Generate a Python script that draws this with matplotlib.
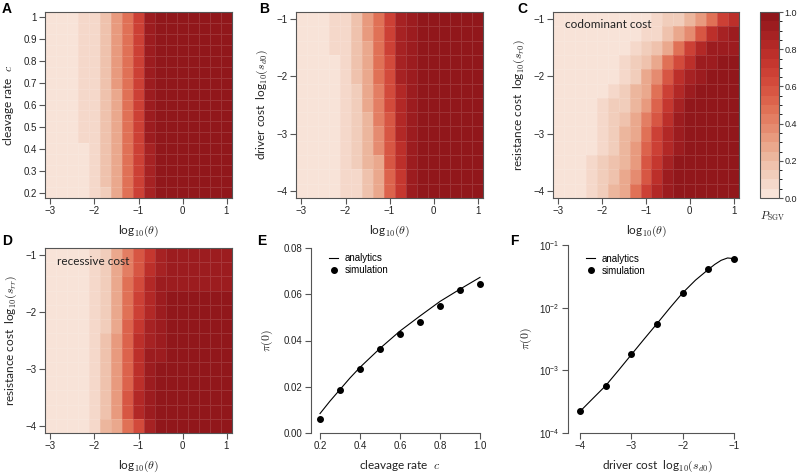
import numpy as np
import matplotlib.pyplot as plt
from matplotlib.colors import LinearSegmentedColormap, ListedColormap, BoundaryNorm
from matplotlib.lines import Line2D

plt.rcParams['font.family'] = ['Liberation Sans', 'DejaVu Sans']
plt.rcParams['mathtext.fontset'] = 'cm'

# grids of the heatmaps
log_theta = [-3, -2.75, -2.5, -2.25, -2, -1.75, -1.5, -1.25, -1, -0.75, -0.5, -0.25, 0, 0.25, 0.5, 0.75, 1]
cleavage = [1.0, 0.95, 0.9, 0.85, 0.8, 0.75, 0.7, 0.65, 0.6, 0.55, 0.5, 0.45, 0.4, 0.35, 0.3, 0.25, 0.2]
log_cost = [-1, -1.25, -1.5, -1.75, -2, -2.25, -2.5, -2.75, -3, -3.25, -3.5, -3.75, -4]

# P_SGV in percent, rows from top of panel to bottom
p_A = [
    [2, 2, 3, 7, 8, 17, 32, 45, 68, 90, 96, 97, 97, 97, 97, 97, 97],
    [2, 2, 3, 7, 8, 17, 32, 45, 68, 90, 96, 97, 97, 97, 97, 97, 97],
    [2, 2, 3, 7, 8, 17, 32, 45, 68, 90, 96, 97, 97, 97, 97, 97, 97],
    [2, 2, 3, 7, 8, 17, 32, 45, 68, 90, 96, 97, 97, 97, 97, 97, 97],
    [2, 2, 3, 7, 8, 17, 32, 45, 68, 90, 96, 97, 97, 97, 97, 97, 97],
    [2, 2, 3, 7, 8, 17, 32, 45, 68, 90, 96, 97, 97, 97, 97, 97, 97],
    [2, 2, 3, 7, 8, 17, 32, 45, 68, 90, 96, 97, 97, 97, 97, 97, 97],
    [2, 2, 3, 7, 8, 17, 27, 45, 68, 90, 96, 97, 97, 97, 97, 97, 97],
    [2, 2, 3, 7, 8, 17, 27, 45, 68, 90, 96, 97, 97, 97, 97, 97, 97],
    [2, 2, 3, 7, 8, 17, 27, 45, 68, 90, 96, 97, 97, 97, 97, 97, 97],
    [2, 2, 3, 7, 8, 17, 27, 45, 68, 90, 96, 97, 97, 97, 97, 97, 97],
    [2, 2, 3, 7, 8, 17, 27, 45, 68, 90, 96, 97, 97, 97, 97, 97, 97],
    [2, 2, 3, 3, 8, 17, 27, 45, 68, 88, 96, 97, 97, 97, 97, 97, 97],
    [2, 2, 3, 3, 8, 17, 27, 45, 68, 88, 96, 97, 97, 97, 97, 97, 97],
    [2, 2, 3, 3, 8, 17, 27, 45, 68, 88, 96, 97, 97, 97, 97, 97, 97],
    [2, 2, 3, 3, 8, 17, 27, 45, 68, 88, 96, 97, 97, 97, 97, 97, 97],
    [2, 2, 3, 3, 8, 10, 27, 45, 68, 88, 96, 97, 97, 97, 97, 97, 97],
]
p_B = [
    [2, 2, 2, 8, 7, 18, 32, 45, 70, 88, 93, 96, 96, 96, 96, 96, 96],
    [2, 2, 2, 8, 7, 18, 32, 45, 70, 88, 93, 96, 96, 96, 96, 96, 96],
    [2, 2, 2, 8, 7, 18, 28, 45, 70, 88, 95, 96, 96, 96, 96, 96, 96],
    [2, 2, 2, 3, 7, 18, 28, 45, 62, 88, 95, 96, 96, 96, 96, 96, 96],
    [2, 2, 2, 3, 7, 18, 28, 45, 62, 88, 95, 96, 96, 96, 96, 96, 96],
    [2, 2, 2, 3, 7, 12, 28, 40, 62, 82, 95, 96, 96, 96, 96, 96, 96],
    [2, 2, 2, 3, 7, 12, 28, 40, 62, 82, 95, 96, 96, 96, 96, 96, 96],
    [2, 2, 2, 3, 7, 12, 20, 40, 57, 82, 95, 96, 96, 96, 96, 96, 96],
    [2, 2, 2, 3, 7, 12, 20, 36, 57, 82, 95, 96, 96, 96, 96, 96, 96],
    [2, 2, 2, 3, 7, 12, 20, 36, 57, 75, 90, 96, 96, 96, 96, 96, 96],
    [2, 2, 2, 3, 7, 12, 20, 30, 57, 75, 90, 96, 96, 96, 96, 96, 96],
    [2, 2, 2, 3, 6, 7, 17, 30, 50, 72, 90, 96, 96, 96, 96, 96, 96],
    [2, 2, 2, 3, 6, 7, 17, 30, 50, 72, 90, 96, 96, 96, 96, 96, 96],
]
p_C = [
    [2, 2, 2, 2, 2, 2, 2, 2, 3, 5, 10, 15, 22, 32, 45, 68, 75],
    [2, 2, 2, 2, 2, 2, 2, 3, 6, 9, 16, 25, 37, 57, 75, 88, 92],
    [2, 2, 2, 2, 2, 2, 3, 6, 11, 18, 30, 45, 65, 82, 91, 95, 95],
    [2, 2, 2, 2, 2, 3, 6, 10, 18, 30, 45, 62, 78, 90, 95, 96, 96],
    [2, 2, 2, 2, 3, 4, 8, 15, 25, 38, 55, 75, 88, 95, 96, 96, 96],
    [2, 2, 2, 2, 3, 7, 11, 20, 30, 45, 65, 82, 92, 96, 96, 96, 96],
    [2, 2, 2, 2, 5, 10, 15, 22, 35, 52, 72, 88, 96, 96, 96, 96, 96],
    [2, 2, 2, 2, 6, 12, 18, 28, 42, 60, 78, 92, 96, 96, 96, 96, 96],
    [2, 2, 2, 2, 7, 13, 20, 30, 45, 65, 82, 94, 97, 97, 97, 97, 97],
    [2, 2, 2, 2, 8, 14, 22, 32, 50, 68, 85, 95, 97, 97, 97, 97, 97],
    [2, 2, 2, 6, 10, 16, 24, 35, 55, 72, 88, 96, 97, 97, 97, 97, 97],
    [2, 2, 2, 6, 10, 18, 26, 38, 60, 78, 92, 97, 97, 97, 97, 97, 97],
    [2, 2, 2, 7, 12, 20, 30, 48, 68, 85, 95, 97, 97, 97, 97, 97, 97],
]
p_D = [
    [2, 2, 2, 3, 5, 10, 25, 42, 55, 72, 86, 92, 95, 95, 95, 95, 95],
    [2, 2, 2, 3, 5, 10, 25, 42, 60, 78, 88, 95, 95, 95, 95, 95, 95],
    [2, 2, 2, 3, 7, 14, 28, 45, 62, 80, 90, 95, 95, 95, 95, 95, 95],
    [2, 2, 2, 3, 7, 15, 30, 48, 65, 85, 93, 96, 96, 96, 96, 96, 96],
    [2, 2, 2, 3, 7, 15, 30, 48, 68, 85, 93, 96, 96, 96, 96, 96, 96],
    [2, 2, 2, 3, 7, 15, 30, 50, 72, 86, 94, 96, 96, 96, 96, 96, 96],
    [2, 2, 2, 3, 7, 18, 32, 50, 75, 88, 95, 96, 96, 96, 96, 96, 96],
    [2, 2, 2, 3, 7, 18, 35, 50, 75, 90, 95, 96, 96, 96, 96, 96, 96],
    [2, 2, 2, 3, 7, 18, 35, 52, 78, 90, 96, 96, 96, 96, 96, 96, 96],
    [2, 2, 2, 3, 7, 18, 35, 52, 78, 90, 96, 96, 96, 96, 96, 96, 96],
    [2, 2, 2, 3, 7, 18, 35, 55, 80, 93, 97, 97, 97, 97, 97, 97, 97],
    [2, 2, 2, 3, 7, 18, 35, 55, 82, 94, 97, 97, 97, 97, 97, 97, 97],
    [2, 2, 2, 3, 7, 20, 26, 45, 62, 86, 96, 97, 97, 97, 97, 97, 97],
]

# panel E
c_curve = [0.2, 0.25, 0.3, 0.35, 0.4, 0.5, 0.6, 0.7, 0.8, 0.9, 1.0]
pi_c_curve = [0.0084, 0.0138, 0.0188, 0.0238, 0.0284, 0.0366, 0.0441, 0.0506, 0.0569, 0.0622, 0.0673]
c_sim = [0.2, 0.3, 0.4, 0.5, 0.6, 0.7, 0.8, 0.9, 1.0]
pi_c_sim = [0.0062, 0.0185, 0.0275, 0.0363, 0.0427, 0.0479, 0.0551, 0.0619, 0.0644]

# panel F
sd_curve = [-4, -3.75, -3.5, -3.25, -3, -2.75, -2.5, -2.25, -2, -1.75, -1.5, -1.375, -1.25, -1.125, -1.0]
pi_sd_curve = [2.21e-4, 3.55e-4, 5.69e-4, 1.0e-3, 1.78e-3, 3.16e-3, 5.56e-3, 9.89e-3,
               0.0172, 0.0275, 0.0407, 0.0490, 0.0570, 0.0621, 0.0606]
sd_sim = [-4, -3.5, -3, -2.5, -2, -1.5, -1]
pi_sd_sim = [2.26e-4, 5.7e-4, 1.79e-3, 5.58e-3, 0.0174, 0.0415, 0.0605]

# colour scale (20 bands of 0.05)
anchors = ['#F9E8DE', '#F3D3C3', '#EDBCA4', '#E9A185', '#E48469', '#DE6A50',
           '#D5503F', '#C93B31', '#B82B28', '#A11F21', '#8C1519']
base = LinearSegmentedColormap.from_list('sgv', anchors)
levels = np.linspace(0, 1, 21)
cmap = ListedColormap(base((levels[:-1] + levels[1:]) / 2))
norm = BoundaryNorm(levels, 20)

W, H = 799, 475
fig = plt.figure(figsize=(W / 100, H / 100), dpi=100)

def box(l, t, r, b):
    return [l / W, 1 - b / H, (r - l) / W, (b - t) / H]

def style(ax, size=7, length=4, pad=2):
    ax.tick_params(direction='out', length=length, width=0.8, color='#555555',
                   labelsize=size, labelcolor='#222222', pad=pad)
    for s in ax.spines.values():
        s.set_color('#555555')
        s.set_linewidth(0.8)

lab_font = dict(family=['Lato', 'DejaVu Sans'], size=8.5, color='#222222')

def heat(rect, yvals, data, ylabel, ylim, yticks, ytl):
    ax = fig.add_axes(box(*rect))
    m = ax.pcolormesh(log_theta, yvals, np.array(data) / 100, shading='nearest',
                      cmap=cmap, norm=norm, edgecolors=(1, 1, 1, 0.12), linewidth=0.4)
    ax.set_xlim(-3.125, 1.125)
    ax.set_ylim(*ylim)
    ax.set_xticks([-3, -2, -1, 0, 1])
    ax.set_yticks(yticks)
    ax.set_yticklabels(ytl)
    ax.set_xlabel(r'log$_{10}(\theta)$', fontdict=lab_font, labelpad=5)
    ax.set_ylabel(ylabel, fontdict=lab_font, labelpad=5)
    style(ax)
    return ax, m

c_ticks = [0.2, 0.3, 0.4, 0.5, 0.6, 0.7, 0.8, 0.9, 1.0]
c_tl = ['0.2', '0.3', '0.4', '0.5', '0.6', '0.7', '0.8', '0.9', '1']
s_ticks = [-4, -3, -2, -1]
s_tl = ['\u22124', '\u22123', '\u22122', '\u22121']

axA, mesh = heat((45, 12, 232, 198), cleavage, p_A, r'cleavage rate  $c$', (0.175, 1.025), c_ticks, c_tl)
axB, _ = heat((296, 12, 483, 198), log_cost, p_B, r'driver cost  log$_{10}(s_{d0})$', (-4.125, -0.875), s_ticks, s_tl)
axC, _ = heat((553, 12, 739, 198), log_cost, p_C, r'resistance cost  log$_{10}(s_{r0})$', (-4.125, -0.875), s_ticks, s_tl)
axD, _ = heat((45, 248, 232, 433), log_cost, p_D, r'resistance cost  log$_{10}(s_{rr})$', (-4.125, -0.875), s_ticks, s_tl)

axC.text(0.065, 0.914, 'codominant cost', transform=axC.transAxes, va='baseline',
         family=['Lato', 'DejaVu Sans'], size=8.5, color='#222222')
axD.text(0.064, 0.908, 'recessive cost', transform=axD.transAxes, va='baseline',
         family=['Lato', 'DejaVu Sans'], size=8.5, color='#222222')

# colour bar
cax = fig.add_axes(box(760, 12, 779, 198))
cb = fig.colorbar(mesh, cax=cax, ticks=[0, 0.2, 0.4, 0.6, 0.8, 1.0])
cb.ax.set_yticklabels(['0.0', '0.2', '0.4', '0.6', '0.8', '1.0'])
cb.outline.set_edgecolor('#555555')
cb.outline.set_linewidth(0.8)
style(cb.ax, size=6.5, length=3, pad=1)
fig.text(773 / W, 1 - 216 / H, r'$P_{\mathrm{SGV}}$', ha='center', va='center', size=8, color='#222222')

# panel E
axE = fig.add_axes(box(311, 248, 489, 433))
axE.plot(c_curve, pi_c_curve, color='black', lw=0.8)
axE.plot(c_sim, pi_c_sim, 'o', color='black', ms=4)
axE.set_xlim(0.155, 1.045)
axE.set_ylim(0, 0.08)
axE.set_xticks([0.2, 0.4, 0.6, 0.8, 1.0])
axE.set_xticklabels(['0.2', '0.4', '0.6', '0.8', '1.0'])
axE.set_yticks([0, 0.02, 0.04, 0.06, 0.08])
axE.set_yticklabels(['0.00', '0.02', '0.04', '0.06', '0.08'])
axE.spines[['top', 'right']].set_visible(False)
axE.spines['bottom'].set_bounds(0.2, 1.0)
axE.set_xlabel(r'cleavage rate  $c$', fontdict=lab_font, labelpad=5)
axE.set_ylabel(r'$\pi(0)$', fontdict=lab_font, labelpad=6)
style(axE)
handles = [Line2D([], [], color='black', lw=0.8),
           Line2D([], [], marker='o', ls='', color='black', ms=4)]
axE.legend(handles, ['analytics', 'simulation'], loc='upper left', bbox_to_anchor=(0.05, 1.02),
           frameon=False, fontsize=7, handlelength=1.0, handletextpad=0.6, labelspacing=0.2)

# panel F
axF = fig.add_axes(box(568, 245, 746, 433))
axF.plot(sd_curve, pi_sd_curve, color='black', lw=0.8)
axF.plot(sd_sim, pi_sd_sim, 'o', color='black', ms=4)
axF.set_yscale('log')
axF.set_xlim(-4.234, -0.766)
axF.set_ylim(1e-4, 1e-1)
axF.set_xticks([-4, -3, -2, -1])
axF.set_xticklabels(s_tl)
axF.set_yticks([1e-4, 1e-3, 1e-2, 1e-1])
axF.set_yticklabels([r'$\mathregular{10^{-4}}$', r'$\mathregular{10^{-3}}$',
                     r'$\mathregular{10^{-2}}$', r'$\mathregular{10^{-1}}$'])
axF.minorticks_off()
axF.spines[['top', 'right']].set_visible(False)
axF.spines['bottom'].set_bounds(-4, -1)
axF.set_xlabel(r'driver cost  log$_{10}(s_{d0})$', fontdict=lab_font, labelpad=5)
axF.set_ylabel(r'$\pi(0)$', fontdict=lab_font, labelpad=4)
style(axF)
axF.legend(handles, ['analytics', 'simulation'], loc='upper left', bbox_to_anchor=(0.05, 1.0),
           frameon=False, fontsize=7, handlelength=1.0, handletextpad=0.6, labelspacing=0.2)

# panel letters
for x, y, s in [(2, 13, 'A'), (259, 13, 'B'), (517, 13, 'C'),
                (2, 245, 'D'), (257, 245, 'E'), (510, 245, 'F')]:
    fig.text(x / W, 1 - y / H, s, fontsize=10, fontweight='bold', va='baseline')

fig.savefig('out.png', dpi=100)
